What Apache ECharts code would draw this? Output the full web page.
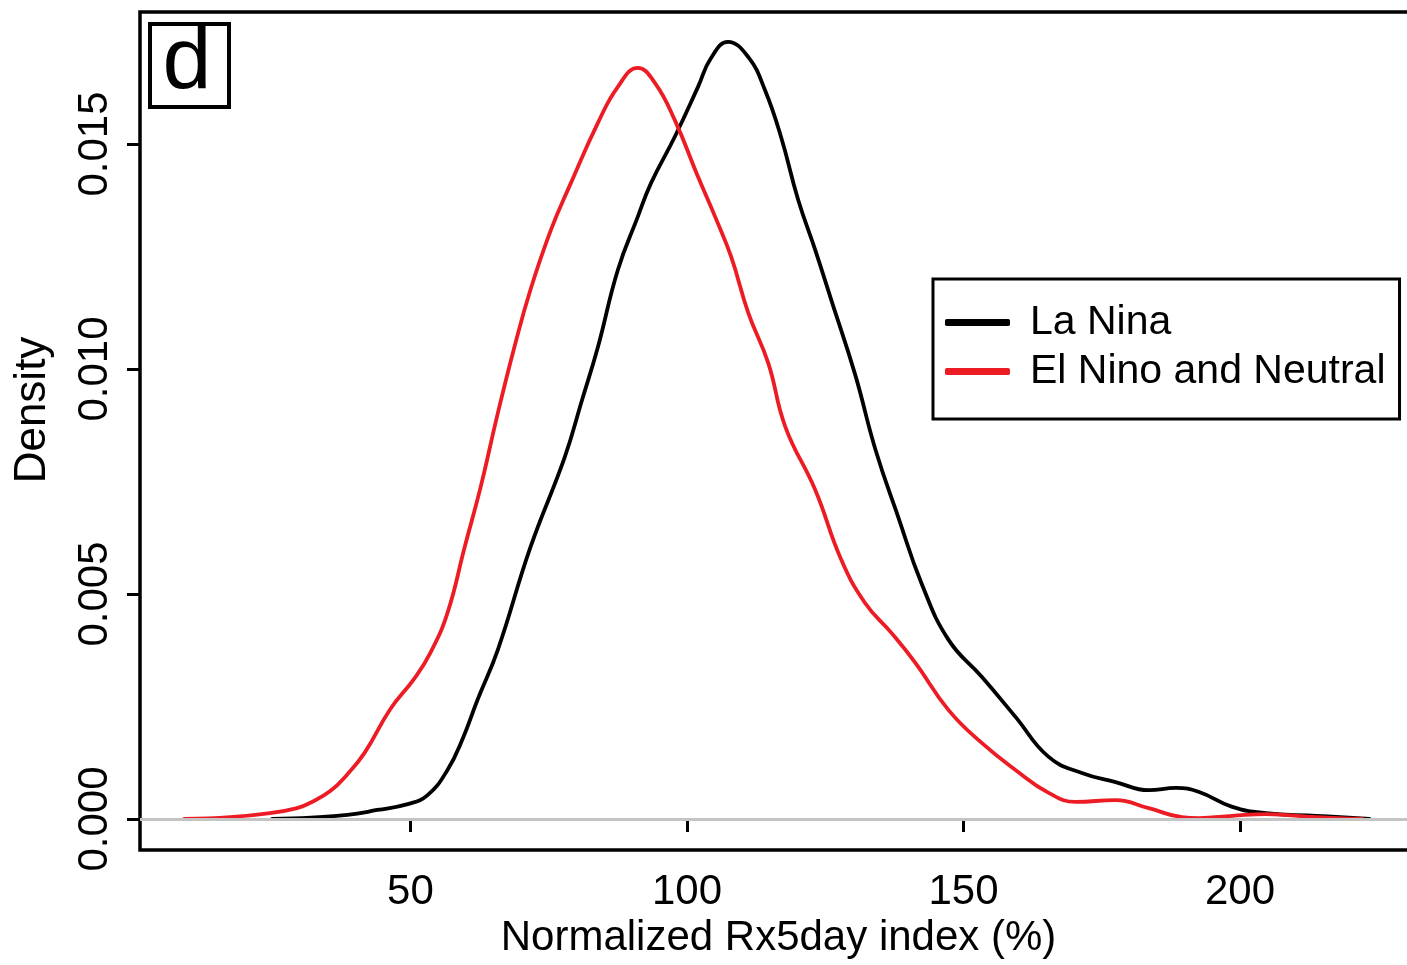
<!DOCTYPE html>
<html><head><meta charset="utf-8">
<script src="https://cdn.jsdelivr.net/npm/echarts@6/dist/echarts.min.js"></script>
<style>html,body{margin:0;padding:0;background:#fff}#c{width:1407px;height:965px}</style>
</head><body><div id="c"></div>
<script>
const seriesNames = ['La Nina', 'El Nino and Neutral'];
const laNinaX = [25.0, 32, 38.6, 44, 49.5, 53.1, 56.7, 59.5, 62.1, 65.8, 71.7, 77.9, 81, 83.9, 87.5, 91.1, 93.5, 97.8, 102.0, 104.3, 107.4, 111.1, 114.1, 117.0, 120.1, 123.2, 126.1, 130.4, 134.1, 138.2, 142.4, 147.3, 153.3, 159.4, 165.4, 171.4, 177.5, 183.5, 188.4, 192.6, 198.6, 204.7, 213.8, 223.4];
const laNinaY = [0, 0.00003, 0.00009, 0.0002, 0.00033, 0.00053, 0.00109, 0.0018, 0.00264, 0.00376, 0.00604, 0.00804, 0.0093, 0.01049, 0.0122, 0.01338, 0.01413, 0.01516, 0.01627, 0.01690, 0.01727, 0.01693, 0.0162, 0.01516, 0.01376, 0.01264, 0.01153, 0.00988, 0.0082, 0.00671, 0.00524, 0.00398, 0.00316, 0.00227, 0.00138, 0.00102, 0.00082, 0.00064, 0.00069, 0.0006, 0.00027, 0.00013, 0.00007, 0];
const elNinoX = [9.1, 17.4, 24.6, 29.5, 31.9, 35.5, 38.5, 41.7, 46.4, 50.7, 53.6, 56.7, 59.8, 62.7, 65.8, 68.8, 71.7, 75.4, 79.0, 83.9, 87.5, 91.1, 94.2, 97.8, 102.0, 105.1, 108.0, 111.1, 114.7, 117.8, 123.2, 127.9, 132.2, 137.0, 141.3, 147.3, 153.3, 159.4, 165.4, 170.3, 177.5, 183.5, 189.5, 192.6, 198.6, 204.7, 213.8, 222.1];
const elNinoY = [0, 0.00004, 0.00013, 0.00024, 0.00036, 0.00062, 0.00098, 0.00147, 0.00245, 0.00312, 0.00369, 0.00458, 0.00604, 0.00738, 0.00902, 0.01049, 0.01176, 0.01309, 0.01413, 0.01547, 0.01627, 0.01669, 0.01636, 0.01553, 0.01427, 0.01338, 0.01249, 0.01124, 0.01013, 0.00871, 0.00731, 0.00576, 0.0048, 0.00413, 0.00347, 0.00242, 0.00169, 0.00109, 0.00058, 0.00038, 0.00042, 0.00024, 0.00004, 0.00002, 0.00007, 0.00011, 0.00004, 0];
const xTicks = [50, 100, 150, 200];
const yTicks = [0, 0.005, 0.010, 0.015];
const panelLabel = 'd';
const xTitle = 'Normalized Rx5day index (%)';
const yTitle = 'Density';

const FONT = '"Liberation Sans", Arial, Helvetica, sans-serif';
const pairs = (xs, ys) => xs.map((x, i) => [x, ys[i]]);

const chart = echarts.init(document.getElementById('c'), null, {renderer: 'canvas'});
chart.setOption({
  animation: false,
  backgroundColor: '#fff',
  textStyle: {fontFamily: FONT, color: '#000'},
  grid: {left: 140, top: 12, right: -10, bottom: 115, outerBoundsMode: 'none', containLabel: false,
    show: true, borderColor: '#000', borderWidth: 3.5, backgroundColor: 'transparent'},
  xAxis: {
    type: 'value', min: 1.1, max: 232,
    axisLine: {show: false},
    splitLine: {show: false},
    axisTick: {show: true, customValues: xTicks, length: 13, lineStyle: {color: '#000', width: 3}},
    axisLabel: {customValues: xTicks, fontSize: 42, color: '#000', margin: 21, fontFamily: FONT},
    name: xTitle, nameLocation: 'middle', nameGap: 67,
    nameTextStyle: {fontSize: 42, color: '#000', fontFamily: FONT}
  },
  yAxis: {
    type: 'value', min: -0.000689, max: 0.017933,
    axisLine: {show: false},
    splitLine: {show: false},
    axisTick: {show: true, customValues: yTicks, length: 13, lineStyle: {color: '#000', width: 3}},
    axisLabel: {customValues: yTicks, fontSize: 42, color: '#000', margin: 24, rotate: 90, fontFamily: FONT,
      formatter: v => Number(v).toFixed(3)}
  },
  legend: {
    data: seriesNames,
    orient: 'vertical', left: 933, top: 279,
    padding: [21, 14, 25, 12],
    borderColor: '#000', borderWidth: 3, borderRadius: 0,
    backgroundColor: '#fff',
    itemWidth: 65, itemHeight: 7, itemGap: 4,
    icon: 'roundRect',
    selectedMode: false,
    textStyle: {fontSize: 41, lineHeight: 45, color: '#000', fontFamily: FONT, padding: [0, 0, 0, 15]}
  },
  graphic: [
    {type: 'rect', shape: {x: 150, y: 24, width: 79, height: 83}, style: {fill: 'none', stroke: '#000', lineWidth: 4}, z: 100},
    {type: 'text', x: 187, y: 64, style: {text: panelLabel, fontSize: 88, fontFamily: FONT, fill: '#000', align: 'center', verticalAlign: 'middle'}, z: 100},
    {type: 'text', x: 33, y: 410, rotation: Math.PI / 2, style: {text: yTitle, fontSize: 44, fontFamily: FONT, fill: '#000', align: 'center', verticalAlign: 'middle'}, z: 100}
  ],
  series: [
    {
      name: 'zero', type: 'line', data: [], z: 1, silent: true,
      markLine: {silent: true, symbol: ['none', 'none'], label: {show: false},
        lineStyle: {color: '#c4c4c4', width: 3, type: 'solid'}, data: [{yAxis: 0}]}
    },
    {
      name: seriesNames[0], type: 'line', data: pairs(laNinaX, laNinaY), z: 3,
      showSymbol: false, symbol: 'none', smooth: 0.45,
      color: '#000', lineStyle: {color: '#000', width: 3.8, cap: 'round', join: 'round'}
    },
    {
      name: seriesNames[1], type: 'line', data: pairs(elNinoX, elNinoY), z: 4,
      showSymbol: false, symbol: 'none', smooth: 0.45,
      color: '#ed1c24', lineStyle: {color: '#ed1c24', width: 3.8, cap: 'round', join: 'round'}
    }
  ]
});
</script>
</body></html>
